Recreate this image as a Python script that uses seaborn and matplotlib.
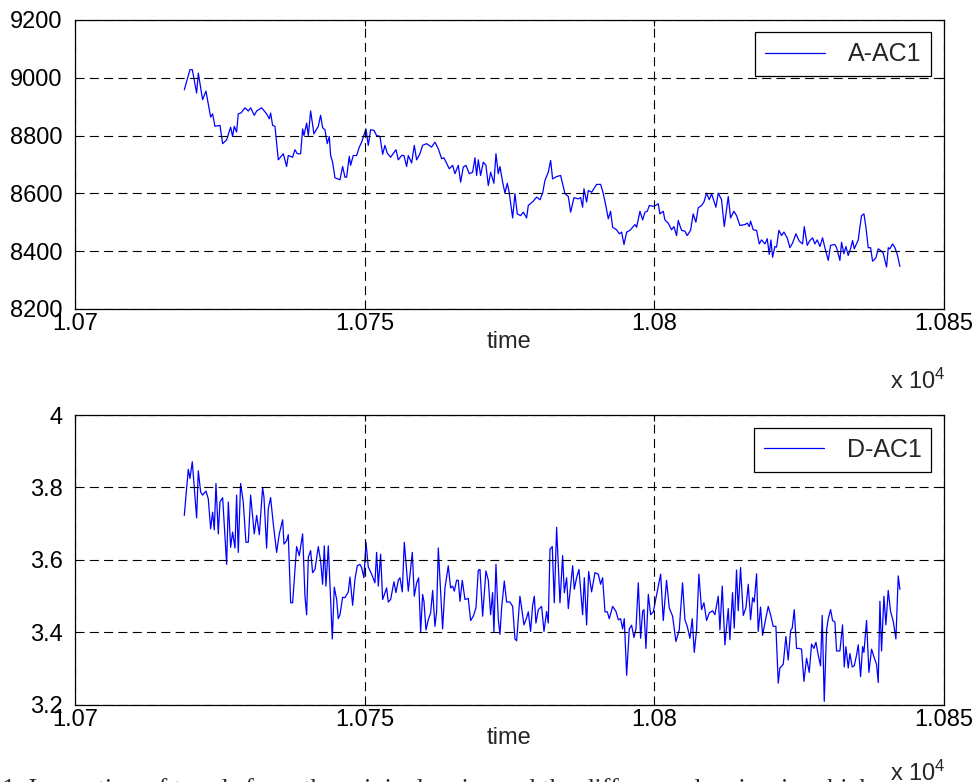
import numpy as np
import pandas as pd
import matplotlib
matplotlib.use("Agg")
import matplotlib.pyplot as plt
import seaborn as sns

# --- data (time in raw units, axis shown as x 10^4) ---
time_a = [10718.87, 10719.85, 10720.25, 10721.00, 10721.29, 10722.03, 10722.61, 10723.42, 10723.76, 10724.16,
          10725.03, 10725.49, 10726.18, 10726.87, 10727.21, 10727.50, 10727.90, 10728.19, 10728.65, 10729.34,
          10729.92, 10730.32, 10730.95, 10731.36, 10732.22, 10733.08, 10733.54, 10733.77, 10734.12, 10734.52,
          10735.10, 10735.96, 10736.53, 10736.82, 10737.57, 10737.97, 10738.38, 10738.95, 10739.30, 10739.53,
          10739.99, 10740.28, 10740.68, 10741.25, 10742.00, 10742.40, 10742.75, 10743.15, 10743.55, 10743.90,
          10744.13, 10744.47, 10744.88, 10745.74, 10746.20, 10746.60, 10746.89, 10747.35, 10747.58, 10748.04,
          10748.62, 10749.08, 10749.48, 10749.77, 10750.23, 10750.63, 10751.03, 10751.61, 10752.07, 10752.65,
          10753.11, 10753.51, 10753.91, 10754.49, 10755.41, 10755.81, 10756.39, 10756.79, 10757.25, 10757.54,
          10758.11, 10758.57, 10758.98, 10759.55, 10760.01, 10760.70, 10761.56, 10762.14, 10762.72, 10763.29,
          10763.69, 10764.61, 10765.19, 10765.59, 10766.17, 10766.57, 10767.03, 10767.49, 10768.07, 10768.64,
          10769.05, 10769.33, 10769.62, 10770.02, 10770.48, 10770.94, 10771.35, 10771.75, 10772.32, 10772.67,
          10773.07, 10773.36, 10773.82, 10774.22, 10774.63, 10774.97, 10775.55, 10775.95, 10776.35, 10776.93,
          10777.39, 10777.96, 10778.25, 10779.11, 10779.69, 10780.27, 10780.73, 10781.13, 10781.70, 10782.11,
          10782.45, 10783.14, 10783.83, 10784.58, 10785.16, 10785.56, 10786.14, 10786.88, 10787.29, 10787.63,
          10787.86, 10788.32, 10788.61, 10789.18, 10790.05, 10790.74, 10791.20, 10791.66, 10792.06, 10792.46,
          10792.81, 10793.50, 10793.96, 10794.36, 10794.77, 10795.23, 10795.80, 10796.66, 10796.95, 10797.53,
          10797.99, 10798.39, 10798.79, 10799.14, 10799.94, 10800.69, 10800.97, 10801.55, 10801.83, 10802.41,
          10802.98, 10803.39, 10803.85, 10804.13, 10804.71, 10805.29, 10805.69, 10806.26, 10806.72, 10807.18,
          10807.59, 10808.16, 10808.57, 10809.03, 10809.49, 10809.89, 10810.64, 10811.04, 10811.61, 10812.08,
          10812.77, 10813.17, 10813.74, 10814.20, 10814.78, 10815.64, 10816.05, 10816.39, 10816.62, 10817.08,
          10817.66, 10818.12, 10818.52, 10819.10, 10819.50, 10819.84, 10820.13, 10820.42, 10820.82, 10821.11,
          10821.51, 10821.97, 10822.38, 10822.95, 10823.41, 10823.87, 10824.45, 10825.02, 10825.60, 10825.89,
          10826.40, 10826.86, 10827.33, 10827.73, 10828.13, 10828.59, 10829.05, 10829.45, 10830.03, 10830.43,
          10831.18, 10831.47, 10832.04, 10832.33, 10832.73, 10833.08, 10833.48, 10833.88, 10834.23, 10834.52,
          10835.21, 10835.49, 10835.78, 10836.19, 10836.53, 10836.93, 10837.34, 10837.68, 10838.26, 10838.66,
          10839.23, 10839.52, 10840.10, 10840.39, 10840.67, 10841.13, 10841.54, 10841.94, 10842.40]
level_a = [8958, 9028, 9028, 8947, 9016, 8924, 8954, 8864, 8875, 8832,
           8835, 8772, 8785, 8829, 8797, 8832, 8812, 8875, 8878, 8896,
           8885, 8896, 8870, 8885, 8896, 8875, 8858, 8878, 8835, 8832,
           8716, 8737, 8693, 8731, 8725, 8751, 8737, 8737, 8823, 8800,
           8843, 8800, 8885, 8806, 8832, 8870, 8827, 8820, 8772, 8797,
           8731, 8708, 8654, 8647, 8693, 8656, 8656, 8728, 8697, 8731,
           8731, 8760, 8777, 8795, 8823, 8766, 8820, 8818, 8800, 8797,
           8735, 8766, 8739, 8725, 8751, 8716, 8731, 8731, 8693, 8731,
           8705, 8766, 8716, 8737, 8766, 8772, 8760, 8777, 8754, 8720,
           8723, 8685, 8697, 8668, 8697, 8639, 8691, 8697, 8668, 8673,
           8723, 8662, 8716, 8662, 8708, 8697, 8627, 8673, 8635, 8737,
           8668, 8693, 8639, 8601, 8635, 8601, 8515, 8599, 8529, 8523,
           8535, 8515, 8558, 8573, 8587, 8578, 8601, 8645, 8673, 8714,
           8650, 8658, 8662, 8599, 8589, 8535, 8585, 8581, 8585, 8552,
           8616, 8570, 8610, 8604, 8631, 8631, 8599, 8555, 8512, 8538,
           8483, 8474, 8460, 8466, 8423, 8466, 8472, 8492, 8483, 8538,
           8508, 8535, 8538, 8558, 8555, 8564, 8529, 8538, 8508, 8497,
           8474, 8485, 8454, 8506, 8472, 8469, 8454, 8472, 8529, 8500,
           8550, 8558, 8570, 8601, 8578, 8599, 8552, 8601, 8578, 8485,
           8589, 8515, 8538, 8523, 8489, 8492, 8497, 8485, 8504, 8474,
           8472, 8425, 8439, 8425, 8443, 8389, 8439, 8379, 8416, 8414,
           8472, 8454, 8466, 8446, 8412, 8428, 8460, 8435, 8425, 8485,
           8420, 8437, 8446, 8425, 8439, 8416, 8446, 8412, 8368, 8420,
           8423, 8412, 8368, 8431, 8391, 8416, 8385, 8408, 8437, 8408,
           8439, 8483, 8523, 8529, 8483, 8412, 8412, 8365, 8377, 8408,
           8400, 8393, 8345, 8412, 8408, 8425, 8412, 8389, 8347]

time_d = [10718.87, 10719.56, 10719.85, 10720.25, 10721.00, 10721.29, 10721.69, 10722.03, 10722.61, 10723.01,
          10723.42, 10723.76, 10724.05, 10724.34, 10724.74, 10725.03, 10725.49, 10726.18, 10726.47, 10726.87,
          10727.21, 10727.62, 10727.90, 10728.19, 10728.59, 10729.05, 10729.51, 10729.92, 10730.32, 10730.67,
          10730.95, 10731.36, 10731.82, 10732.39, 10732.62, 10733.08, 10733.37, 10733.77, 10734.23, 10734.81,
          10735.27, 10735.85, 10736.08, 10736.53, 10736.82, 10737.23, 10737.57, 10738.26, 10738.72, 10739.30,
          10739.70, 10739.99, 10740.28, 10740.68, 10741.02, 10741.43, 10742.00, 10742.40, 10742.75, 10743.04,
          10743.32, 10743.73, 10744.02, 10744.42, 10744.76, 10745.17, 10745.45, 10745.74, 10746.20, 10746.60,
          10747.18, 10747.47, 10747.93, 10748.33, 10748.73, 10749.19, 10749.48, 10749.88, 10750.23, 10750.63,
          10751.21, 10751.78, 10752.07, 10752.36, 10752.76, 10753.11, 10753.51, 10753.80, 10754.08, 10754.49,
          10755.06, 10755.41, 10755.81, 10756.10, 10756.50, 10756.85, 10757.13, 10757.54, 10758.23, 10758.57,
          10758.98, 10759.32, 10759.67, 10760.01, 10760.24, 10760.59, 10760.99, 10761.39, 10761.74, 10762.14,
          10762.43, 10762.72, 10763.12, 10763.46, 10763.87, 10764.44, 10764.84, 10765.19, 10765.48, 10765.88,
          10766.17, 10766.46, 10766.86, 10767.32, 10767.89, 10768.30, 10768.76, 10769.22, 10769.62, 10769.91,
          10770.37, 10770.94, 10771.35, 10771.75, 10772.09, 10772.32, 10772.67, 10773.07, 10773.36, 10773.65,
          10774.11, 10774.51, 10775.09, 10775.55, 10775.95, 10776.24, 10776.81, 10777.10, 10777.50, 10777.96,
          10778.25, 10778.65, 10779.00, 10779.29, 10779.57, 10779.98, 10780.55, 10780.96, 10781.42, 10781.70,
          10782.00, 10782.39, 10782.74, 10783.14, 10783.72, 10784.18, 10784.47, 10784.87, 10785.16, 10785.91,
          10786.19, 10786.59, 10787.00, 10787.63, 10787.92, 10788.32, 10788.67, 10789.18, 10789.76, 10790.33,
          10790.74, 10791.08, 10791.49, 10791.89, 10792.23, 10792.81, 10793.39, 10793.79, 10794.19, 10794.54,
          10794.82, 10795.23, 10795.69, 10796.09, 10796.49, 10796.84, 10797.24, 10797.64, 10797.99, 10798.22,
          10798.56, 10798.97, 10799.37, 10799.83, 10800.41, 10801.10, 10801.55, 10802.12, 10802.58, 10803.16,
          10803.73, 10804.31, 10804.88, 10805.29, 10805.69, 10806.15, 10806.55, 10806.90, 10807.30, 10807.70,
          10808.16, 10808.57, 10809.03, 10809.49, 10810.06, 10810.46, 10811.04, 10811.33, 10811.73, 10812.19,
          10812.77, 10813.05, 10813.51, 10813.80, 10814.20, 10814.49, 10814.89, 10815.36, 10815.82, 10816.22,
          10816.62, 10816.97, 10817.25, 10817.66, 10817.94, 10818.35, 10818.69, 10819.15, 10819.67, 10820.07,
          10820.53, 10820.99, 10821.40, 10821.68, 10822.26, 10822.72, 10823.12, 10823.53, 10823.81, 10824.16,
          10824.56, 10825.02, 10825.42, 10825.83, 10826.29, 10826.75, 10827.15, 10827.55, 10827.90, 10828.30,
          10828.70, 10828.99, 10829.34, 10829.74, 10830.03, 10830.43, 10830.78, 10831.18, 10831.47, 10832.04,
          10832.50, 10832.79, 10833.08, 10833.48, 10833.77, 10834.17, 10834.52, 10834.92, 10835.21, 10835.61,
          10835.96, 10836.19, 10836.64, 10837.05, 10837.51, 10837.91, 10838.37, 10838.66, 10838.95, 10839.23,
          10839.64, 10839.98, 10840.38, 10840.79, 10841.25, 10841.71, 10842.11, 10842.40]
level_d = [3.723, 3.850, 3.825, 3.871, 3.716, 3.846, 3.788, 3.779, 3.790, 3.769,
           3.686, 3.732, 3.683, 3.811, 3.672, 3.760, 3.772, 3.588, 3.760, 3.635,
           3.677, 3.633, 3.779, 3.621, 3.811, 3.760, 3.649, 3.649, 3.779, 3.718,
           3.672, 3.723, 3.670, 3.800, 3.774, 3.633, 3.742, 3.772, 3.700, 3.621,
           3.672, 3.711, 3.644, 3.653, 3.670, 3.482, 3.482, 3.637, 3.612, 3.672,
           3.500, 3.449, 3.607, 3.626, 3.565, 3.574, 3.637, 3.598, 3.533, 3.639,
           3.528, 3.639, 3.528, 3.382, 3.525, 3.491, 3.438, 3.449, 3.497, 3.496,
           3.512, 3.553, 3.475, 3.547, 3.584, 3.588, 3.579, 3.551, 3.649, 3.581,
           3.561, 3.537, 3.621, 3.528, 3.616, 3.491, 3.510, 3.523, 3.484, 3.491,
           3.540, 3.510, 3.544, 3.551, 3.512, 3.649, 3.593, 3.514, 3.621, 3.500,
           3.537, 3.551, 3.401, 3.505, 3.486, 3.407, 3.435, 3.454, 3.516, 3.417,
           3.458, 3.633, 3.514, 3.410, 3.523, 3.584, 3.523, 3.528, 3.514, 3.544,
           3.544, 3.486, 3.544, 3.491, 3.494, 3.433, 3.445, 3.468, 3.572, 3.574,
           3.445, 3.570, 3.544, 3.449, 3.510, 3.401, 3.588, 3.438, 3.395, 3.468,
           3.542, 3.484, 3.484, 3.472, 3.382, 3.377, 3.500, 3.468, 3.421, 3.440,
           3.457, 3.403, 3.475, 3.500, 3.426, 3.463, 3.472, 3.403, 3.458, 3.426,
           3.630, 3.637, 3.482, 3.690, 3.482, 3.612, 3.510, 3.551, 3.466, 3.584,
           3.519, 3.551, 3.574, 3.449, 3.551, 3.421, 3.568, 3.512, 3.565, 3.561,
           3.533, 3.551, 3.457, 3.457, 3.438, 3.472, 3.458, 3.435, 3.438, 3.410,
           3.438, 3.282, 3.410, 3.420, 3.386, 3.410, 3.537, 3.384, 3.458, 3.463,
           3.356, 3.505, 3.449, 3.457, 3.505, 3.561, 3.433, 3.544, 3.468, 3.445,
           3.375, 3.407, 3.537, 3.435, 3.417, 3.384, 3.438, 3.345, 3.407, 3.561,
           3.463, 3.482, 3.433, 3.454, 3.460, 3.449, 3.500, 3.407, 3.528, 3.366,
           3.466, 3.380, 3.510, 3.412, 3.572, 3.460, 3.579, 3.447, 3.468, 3.533,
           3.435, 3.496, 3.484, 3.562, 3.403, 3.470, 3.392, 3.431, 3.472, 3.449,
           3.417, 3.417, 3.260, 3.302, 3.312, 3.389, 3.324, 3.405, 3.412, 3.463,
           3.356, 3.356, 3.354, 3.265, 3.329, 3.290, 3.368, 3.356, 3.373, 3.338,
           3.308, 3.447, 3.210, 3.407, 3.438, 3.463, 3.433, 3.429, 3.349, 3.349,
           3.421, 3.305, 3.361, 3.302, 3.342, 3.305, 3.308, 3.338, 3.366, 3.278,
           3.361, 3.345, 3.433, 3.290, 3.354, 3.333, 3.312, 3.262, 3.486, 3.349,
           3.500, 3.421, 3.516, 3.458, 3.431, 3.382, 3.556, 3.519]

x_ticks = [10700, 10750, 10800, 10850]
x_tick_labels = ["1.07", "1.075", "1.08", "1.085"]
a_ticks = [8200, 8400, 8600, 8800, 9000, 9200]
a_tick_labels = ["8200", "8400", "8600", "8800", "9000", "9200"]
d_ticks = [3.2, 3.4, 3.6, 3.8, 4.0]
d_tick_labels = ["3.2", "3.4", "3.6", "3.8", "4"]

df_a = pd.DataFrame({"time": time_a, "value": level_a})
df_d = pd.DataFrame({"time": time_d, "value": level_d})

sns.set_style("white")
plt.rcParams["font.family"] = ["Liberation Sans", "DejaVu Sans"]
plt.rcParams["mathtext.fontset"] = "custom"
plt.rcParams["mathtext.rm"] = "Liberation Sans"
plt.rcParams["lines.scale_dashes"] = False

fig = plt.figure(figsize=(9.8, 7.82), dpi=100, facecolor="white")
ax1 = fig.add_axes([0.0765, 0.6049, 0.8867, 0.3696])
ax2 = fig.add_axes([0.0765, 0.0985, 0.8867, 0.3708])

panels = [
    (ax1, df_a, "A-AC1", (8200, 9200), a_ticks, a_tick_labels),
    (ax2, df_d, "D-AC1", (3.2, 4.0), d_ticks, d_tick_labels),
]

for ax, df, name, ylim, yt, ytl in panels:
    sns.lineplot(data=df, x="time", y="value", ax=ax, color="#0000ff",
                 linewidth=0.9, sort=False, estimator=None, label=name)
    ax.set_xlim(10700, 10850)
    ax.set_ylim(*ylim)
    ax.set_xticks(x_ticks)
    ax.set_xticklabels(x_tick_labels)
    ax.set_yticks(yt)
    ax.set_yticklabels(ytl)
    ax.grid(True, color="black", linestyle=(0, (6.5, 3.8)), linewidth=0.8)
    ax.set_axisbelow(False)
    for sp in ax.spines.values():
        sp.set_visible(True)
        sp.set_color("black")
        sp.set_linewidth(0.9)
    ax.tick_params(direction="in", length=4, width=0.8, labelsize=17,
                   top=True, right=True, colors="black")
    ax.tick_params(axis="y", pad=9)
    ax.tick_params(axis="x", pad=3)
    ax.set_xlabel("time", fontsize=17, labelpad=-3)
    ax.set_ylabel("")
    leg = ax.legend(loc="upper right", fontsize=18, frameon=True, fancybox=False,
                    edgecolor="black", framealpha=1, borderaxespad=0.5,
                    handlelength=2.4, handletextpad=0.9, borderpad=0.4)
    leg.get_frame().set_linewidth(0.9)
    for h in leg.get_lines():
        h.set_linewidth(0.9)

# MATLAB-style exponent labels
fig.text(946 / 980, 1 - 389 / 782, r"x $\mathregular{10^4}$", fontsize=17,
         ha="right", va="baseline")
fig.text(946 / 980, 1 - 781 / 782, r"x $\mathregular{10^4}$", fontsize=17,
         ha="right", va="baseline")

# caption line cut off at the bottom of the picture
fig.text(0.002, -0.018,
         "1. Inspection of trends from the original series and the differenced series, in which",
         fontsize=19, family=["Liberation Serif", "DejaVu Serif"], ha="left", va="baseline")

fig.savefig("out.png", dpi=100, facecolor="white")
plt.close(fig)
